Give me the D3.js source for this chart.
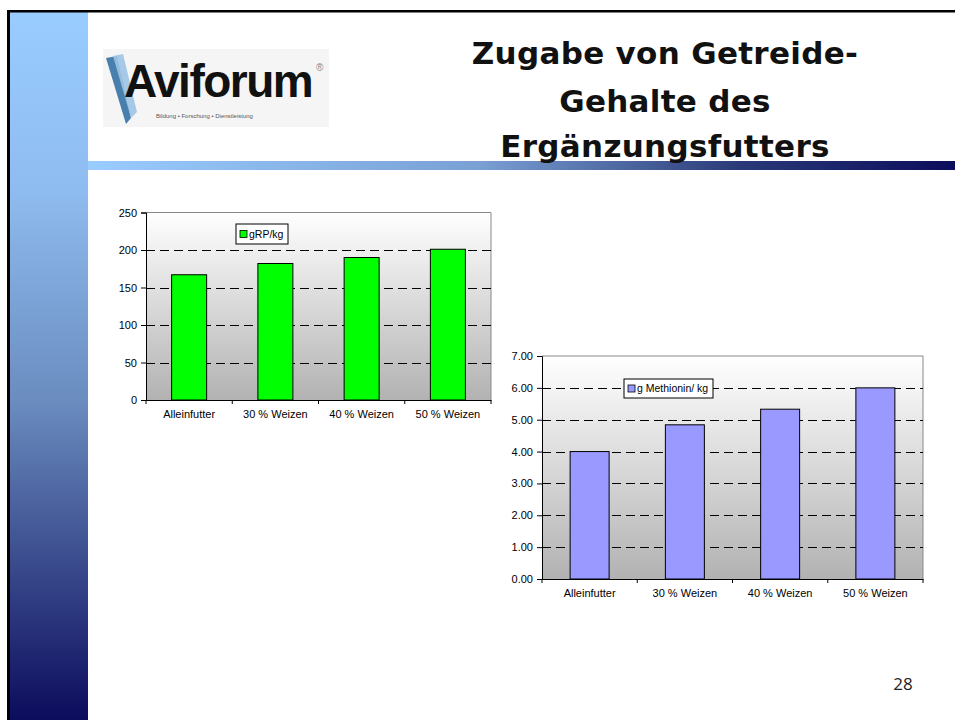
<!DOCTYPE html>
<html><head><meta charset="utf-8">
<script src="https://cdn.jsdelivr.net/npm/d3@7"></script>
<style>html,body{margin:0;padding:0;background:#fff;}svg{display:block;}</style>
</head><body>
<script>
const categories = ["Alleinfutter", "30 % Weizen", "40 % Weizen", "50 % Weizen"];
const rpValues = [167, 182, 190, 201];
const rpTicks = [0, 50, 100, 150, 200, 250];
const rpLabel = "gRP/kg";
const metValues = [4.0, 4.84, 5.33, 6.0];
const metTicks = [0, 1, 2, 3, 4, 5, 6, 7];
const metLabel = "g Methionin/ kg";
const titleLines = ["Zugabe von Getreide-", "Gehalte des", "Ergänzungsfutters"];
const pageNumber = "28";

const W = 955, H = 720;
const svg = d3.select("body").append("svg").attr("width", W).attr("height", H);
const defs = svg.append("defs");

const gSide = defs.append("linearGradient").attr("id","side").attr("x1",0).attr("y1",0).attr("x2",0).attr("y2",1);
gSide.append("stop").attr("offset","0%").attr("stop-color","#99ccff");
gSide.append("stop").attr("offset","25%").attr("stop-color","#8fbcf0");
gSide.append("stop").attr("offset","55%").attr("stop-color","#6a8cbf");
gSide.append("stop").attr("offset","100%").attr("stop-color","#0c0c5c");

const gBar = defs.append("linearGradient").attr("id","hbar").attr("x1",0).attr("y1",0).attr("x2",1).attr("y2",0);
gBar.append("stop").attr("offset","0%").attr("stop-color","#99ccff");
gBar.append("stop").attr("offset","45%").attr("stop-color","#7aa0d4");
gBar.append("stop").attr("offset","75%").attr("stop-color","#2a3a78");
gBar.append("stop").attr("offset","100%").attr("stop-color","#0c0c5c");

const gPlot = defs.append("linearGradient").attr("id","plotbg").attr("x1",0).attr("y1",0).attr("x2",0).attr("y2",1);
gPlot.append("stop").attr("offset","0%").attr("stop-color","#ffffff");
gPlot.append("stop").attr("offset","100%").attr("stop-color","#b2b2b2");

// frame
svg.append("rect").attr("x",10).attr("y",12).attr("width",78).attr("height",H-12).attr("fill","url(#side)");
svg.append("rect").attr("x",7).attr("y",10).attr("width",3).attr("height",H-10).attr("fill","#000");
svg.append("rect").attr("x",7).attr("y",10).attr("width",W-7).attr("height",2.5).attr("fill","#000");
svg.append("rect").attr("x",88).attr("y",161).attr("width",W-88).attr("height",9).attr("fill","url(#hbar)");

// logo
const logo = svg.append("g");
logo.append("rect").attr("x",103).attr("y",49).attr("width",226).attr("height",78).attr("fill","#f5f5f5");
logo.append("path").attr("d","M106,58 L117,56 L131,118 L126,124 Z").attr("fill","#2a6aa0").attr("opacity",0.85);
logo.append("path").attr("d","M113,56 L123,54 L137,112 L131,118 Z").attr("fill","#9cc4e4").attr("opacity",0.9);
logo.append("text").attr("x",124).attr("y",97).attr("font-family","Liberation Sans, Arial, sans-serif")
  .attr("font-weight","bold").attr("font-size",46).attr("letter-spacing",-1.5).attr("fill","#111").text("Aviforum");
logo.append("text").attr("x",316).attr("y",71).attr("font-family","Liberation Sans, Arial, sans-serif")
  .attr("font-size",10).attr("fill","#888").text("®");
logo.append("text").attr("x",156).attr("y",118).attr("font-family","Liberation Sans, Arial, sans-serif")
  .attr("font-size",6).attr("fill","#555").text("Bildung • Forschung • Dienstleistung");

// title
const title = svg.append("text").attr("text-anchor","middle").attr("font-family","DejaVu Sans, Verdana, sans-serif")
  .attr("font-size",31).attr("font-weight","bold").attr("letter-spacing",0.3).attr("fill","#111");
titleLines.forEach((t,i)=>{
  title.append("tspan").attr("x",665).attr("y",[64,112,157][i]).text(t);
});

svg.append("text").attr("x",903).attr("y",690).attr("text-anchor","middle")
  .attr("font-family","Open Sans, Liberation Sans, sans-serif").attr("font-size",17).attr("fill","#222").text(pageNumber);

function barChart(cfg){
  const {x0,x1,y0,y1,values,ticks,fmt,color,label,legend,barW} = cfg;
  const g = svg.append("g");
  const x = d3.scaleBand().domain(categories).range([x0,x1]).paddingInner(0).paddingOuter(0);
  const y = d3.scaleLinear().domain([ticks[0], ticks[ticks.length-1]]).range([y1,y0]);
  g.append("rect").attr("x",x0).attr("y",y0).attr("width",x1-x0).attr("height",y1-y0).attr("fill","url(#plotbg)");
  g.append("path").attr("d",`M${x0},${y0}H${x1}V${y1}`).attr("fill","none").attr("stroke","#888").attr("stroke-width",1);
  g.selectAll(".grid").data(ticks.slice(1,-1)).join("line")
    .attr("x1",x0).attr("x2",x1).attr("y1",d=>Math.round(y(d))+0.5).attr("y2",d=>Math.round(y(d))+0.5)
    .attr("stroke","#000").attr("stroke-width",1).attr("stroke-dasharray","9,5");
  g.selectAll(".bar").data(values).join("rect")
    .attr("x",(d,i)=>x(categories[i])+x.bandwidth()/2-barW/2).attr("width",barW)
    .attr("y",d=>y(d)).attr("height",d=>y1-y(d))
    .attr("fill",color).attr("stroke","#000").attr("stroke-width",1);
  const ya = d3.axisLeft(y).tickValues(ticks).tickFormat(fmt).tickSize(5).tickPadding(4);
  const ga = g.append("g").attr("transform",`translate(${x0},0)`).call(ya);
  const xa = d3.axisBottom(x).tickSize(0).tickPadding(10);
  const gx = g.append("g").attr("transform",`translate(0,${y1})`).call(xa);
  [ga,gx].forEach(a=>{a.selectAll("text").attr("font-family","Liberation Sans, Arial, sans-serif").attr("font-size",11).attr("fill","#000");
    a.select(".domain").attr("stroke","#000"); a.selectAll("line").attr("stroke","#000");});
  gx.selectAll(".sep").data(d3.range(categories.length+1)).join("line")
    .attr("x1",i=>x0+i*x.step()).attr("x2",i=>x0+i*x.step()).attr("y1",0).attr("y2",4).attr("stroke","#000");
  const lg = g.append("g");
  lg.append("rect").attr("x",legend[0]).attr("y",legend[1]).attr("width",legend[2]).attr("height",legend[3])
    .attr("fill","#fff").attr("stroke","#000").attr("stroke-width",1);
  lg.append("rect").attr("x",legend[0]+4).attr("y",legend[1]+legend[3]/2-3.5).attr("width",7).attr("height",7)
    .attr("fill",color).attr("stroke","#000").attr("stroke-width",0.8);
  lg.append("text").attr("x",legend[0]+13).attr("y",legend[1]+legend[3]/2+3.5)
    .attr("font-family","Liberation Sans, Arial, sans-serif").attr("font-size",10.5).text(label);
}

barChart({x0:146,x1:491,y0:212.5,y1:400,values:rpValues,ticks:rpTicks,fmt:d3.format("d"),
  color:"#00ff00",label:rpLabel,legend:[236,224,52,20],barW:35});
barChart({x0:542,x1:923,y0:356,y1:579,values:metValues,ticks:metTicks,fmt:d3.format(".2f"),
  color:"#9999ff",label:metLabel,legend:[624,379,89,19],barW:39});
</script>
</body></html>
